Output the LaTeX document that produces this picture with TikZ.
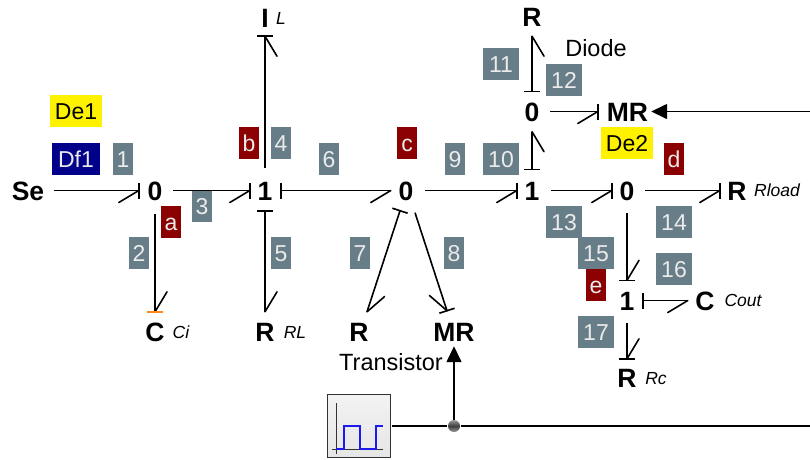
\documentclass[tikz,border=0pt]{standalone}
\usepackage{fontspec}
\setmainfont{Liberation Sans}
\usetikzlibrary{arrows.meta,decorations.markings}
\definecolor{tagGray}{HTML}{677D87}
\definecolor{tagRed}{HTML}{8B0000}
\definecolor{tagNavy}{HTML}{00008B}
\definecolor{barOrange}{HTML}{FF8C1A}
\definecolor{pulseBlue}{HTML}{1A1AF0}
\tikzset{
  x=1pt,y=-1pt,
  bondline/.style={line width=1.6pt,black},
  bond/.style={bondline},
  barbR/.style={postaction={decorate,decoration={markings,mark=at position 1 with {\draw[bondline,line cap=round] (0pt,0pt)--(-20pt,-12pt);}}}},
  barbL/.style={postaction={decorate,decoration={markings,mark=at position 1 with {\draw[bondline,line cap=round] (0pt,0pt)--(-20pt,12pt);}}}},
  endbar/.style={postaction={decorate,decoration={markings,mark=at position 1 with {\draw[bondline] (0pt,-8pt)--(0pt,8pt);}}}},
  endbarO/.style={postaction={decorate,decoration={markings,mark=at position 1 with {\draw[line width=1.6pt,barOrange] (0pt,-8pt)--(0pt,8pt);}}}},
  startbar/.style={postaction={decorate,decoration={markings,mark=at position 0 with {\draw[bondline] (0pt,-8pt)--(0pt,8pt);}}}},
  signal/.style={line width=1.5pt,-{Triangle[length=16pt,width=15pt]}},
  plainline/.style={line width=1.5pt},
  bold/.style={inner sep=0pt,font=\fontsize{26.5}{26.5}\selectfont\bfseries,text height=19pt,text depth=0pt},
  junction/.style={bold,minimum width=32pt,minimum height=44pt},
  sub/.style={inner sep=0pt,font=\fontsize{17.5}{17.5}\selectfont\itshape,text height=12.5pt,text depth=0pt},
  txt/.style={inner sep=0pt,font=\fontsize{23.5}{23.5}\selectfont,text height=17pt,text depth=0pt},
  tag/.style={inner sep=0pt,font=\fontsize{23}{23}\selectfont,minimum height=32pt,text height=16.5pt,text depth=0pt},
  gtag/.style={tag,fill=tagGray,text=white!92!black,minimum width=20pt},
  gwide/.style={tag,fill=tagGray,text=white!92!black,minimum width=36pt},
  rtag/.style={tag,fill=tagRed,text=white!92!black,minimum width=20pt},
  ytag/.style={tag,fill=yellow,text=black,minimum width=52pt},
  ntag/.style={tag,fill=tagNavy,text=white!92!black,minimum width=48pt},
}
\begin{document}
\begin{tikzpicture}
\useasboundingbox (0,0) rectangle (810,459);
% tags
\node[gtag] (t1) at (123,159) {1};
\node[gtag] (t2) at (139,253) {2};
\node[gtag] (t3) at (202,206) {3};
\node[gtag] (t4) at (281,143) {4};
\node[gtag] (t5) at (281,253) {5};
\node[gtag] (t6) at (329,159) {6};
\node[gtag] (t7) at (360,253) {7};
\node[gtag] (t8) at (454,253) {8};
\node[gtag] (t9) at (455,159) {9};
\node[gwide] (t10) at (501,159) {10};
\node[gwide] (t11) at (501,64) {11};
\node[gwide] (t12) at (564,80) {12};
\node[gwide] (t13) at (564,222) {13};
\node[gwide] (t14) at (674,222) {14};
\node[gwide] (t15) at (596,253) {15};
\node[gwide] (t16) at (674,269) {16};
\node[gwide] (t17) at (596,332) {17};
\node[rtag] (ta) at (171,222) {a};
\node[rtag] (tb) at (249,143) {b};
\node[rtag] (tc) at (407,143) {c};
\node[rtag] (td) at (674,159) {d};
\node[rtag] (te) at (596,285) {e};
\node[ytag] (de1) at (76,111) {De1};
\node[ntag] (df1) at (76,159) {Df1};
\node[ytag] (de2) at (627,143) {De2};
% elements
\node[bold,minimum width=52pt] (se) at (28,190.5) {Se};
\node[junction] (j1) at (155,190.5) {0};
\node[junction] (j2) at (265,190.5) {1};
\node[junction] (j3) at (406,190.5) {0};
\node[junction] (j4) at (532,190.5) {1};
\node[junction] (j5) at (532,111.5) {0};
\node[junction] (j6) at (627,190.5) {0};
\node[junction] (j7) at (627,300.5) {1};
\node[bold,minimum height=36pt] (iL) at (265,18) {I};
\node[sub] (iLs) at (281,18) {L};
\node[bold,minimum height=40pt] (cCi) at (155,332) {C};
\node[sub] (cCis) at (181,332) {Ci};
\node[bold,minimum height=40pt] (rRL) at (265,332) {R};
\node[sub] (rRLs) at (295,332) {RL};
\node[bold,minimum height=40pt] (rT) at (359,332) {R};
\node[bold,minimum height=42pt] (mrT) at (454,332) {MR};
\node[txt] (trans) at (391,362) {Transistor};
\node[bold,minimum height=38pt] (rD) at (532,17) {R};
\node[txt] (diode) at (596,48) {Diode};
\node[bold,minimum width=47pt] (mrD) at (627.5,111.5) {MR};
\node[bold,minimum width=34pt] (rLoad) at (737,190.5) {R};
\node[sub] (rLoads) at (777,190) {Rload};
\node[bold,minimum width=34pt] (cOut) at (705,300.5) {C};
\node[sub] (cOuts) at (743,300) {Cout};
\node[bold,minimum height=38pt] (rC) at (627,378) {R};
\node[sub] (rCs) at (656,378) {Rc};
% source block
\node[draw=black!80,line width=1.5pt,top color=white!95!black,bottom color=black!10,minimum size=63pt,inner sep=0pt] (src) at (359,426) {};
\draw[line width=1pt,black!80] (336,403) -- (336,454);
\draw[line width=1pt,black!80] (332,449.5) -- (383,449.5);
\draw[line width=2pt,pulseBlue] (336,449) -- (344,449) -- (344,426) -- (360,426) -- (360,449) -- (376,449) -- (376,426) -- (383,426);
\node[circle,minimum size=12pt,inner sep=0pt,top color=black!40,bottom color=black!40,middle color=black!75] (dot) at (454,426) {};
\coordinate (sigE) at (810,426);
\coordinate (sigD) at (810,111.5);
% signals
\draw[plainline] ([xshift=1pt]src.east) -- ([xshift=-1pt]dot.west);
\draw[plainline] ([xshift=1pt]dot.east) -- (sigE);
\draw[signal] (dot.north) -- ([yshift=7pt]mrT.south);
\draw[signal] (sigD) -- (mrD.east);
% bonds
\draw[bond,barbR,endbar] (se.east) -- (j1.west);
\draw[bond,barbL,endbarO] ([yshift=-1pt]j1.south) -- (cCi.north);
\draw[bond,barbR,endbar] ([xshift=2pt]j1.east) -- ([xshift=1pt]j2.west);
\draw[bond,barbR,endbar] (j2.north) -- (iL.south);
\draw[bond,barbL,startbar] ([yshift=2pt]j2.south) -- (rRL.north);
\draw[bond,barbR,startbar] (j2.east) -- ([xshift=1pt]j3.west);
\draw[bond,barbL,startbar] ([xshift=-6pt,yshift=2pt]j3.south) -- ([xshift=8pt]rT.north);
\draw[bond,barbR,endbar] ([xshift=9pt]j3.south) -- ([xshift=-7pt]mrT.north);
\draw[bond,barbR,endbar] ([xshift=3pt]j3.east) -- ([xshift=1pt]j4.west);
\draw[bond,barbR,startbar] ([yshift=-1pt]j4.north) -- ([yshift=2pt]j5.south);
\draw[bond,barbR,startbar] ([yshift=-2pt]j5.north) -- (rD.south);
\draw[bond,barbR,endbar] ([xshift=2pt]j5.east) -- ([xshift=-6pt]mrD.west);
\draw[bond,barbR,endbar] ([xshift=3pt]j4.east) -- ([xshift=1pt]j6.west);
\draw[bond,barbR,endbar] ([xshift=2pt]j6.east) -- (rLoad.west);
\draw[bond,barbL,endbar] (j6.south) -- ([yshift=-2pt]j7.north);
\draw[bond,barbR,startbar] (j7.east) -- (cOut.west);
\draw[bond,barbL,endbar] (j7.south) -- (rC.north);
\end{tikzpicture}
\end{document}
